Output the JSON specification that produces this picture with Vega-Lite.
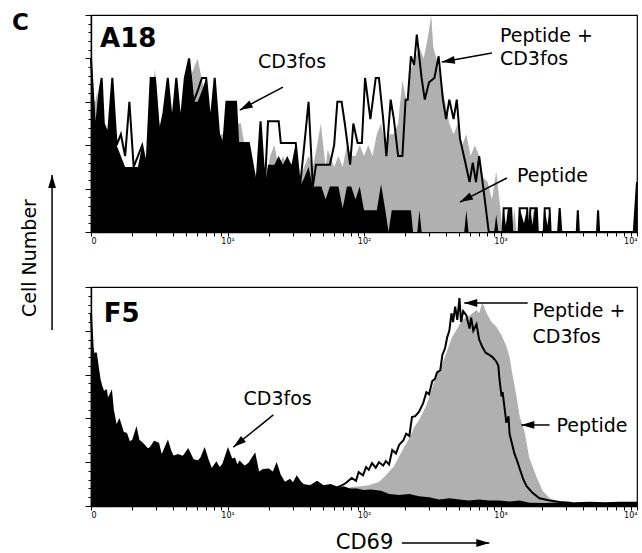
{
 "$schema": "https://vega.github.io/schema/vega-lite/v6.json",
 "background": "white",
 "padding": {"left": 11, "top": 11, "right": 0, "bottom": 0},
 "bounds": "flush",
 "spacing": 55,
 "config": {
  "font": "DejaVu Sans",
  "view": {"stroke": "black", "strokeWidth": 1.2},
  "axis": {"domainColor": "black", "tickColor": "black", "labelColor": "black", "grid": false, "domainWidth": 1.4, "tickWidth": 1}
 },
 "datasets": {
  "topG": [{"ch":0,"n":6},{"ch":8,"n":6},{"ch":12,"n":6.5},{"ch":16,"n":5},{"ch":24,"n":5},{"ch":32,"n":4},{"ch":40,"n":5},{"ch":48,"n":4},{"ch":56,"n":3},{"ch":64,"n":2.5},{"ch":72,"n":2.5},{"ch":80,"n":2.5},{"ch":88,"n":3},{"ch":96,"n":3.5},{"ch":104,"n":3},{"ch":112,"n":6},{"ch":120,"n":7.5},{"ch":128,"n":5},{"ch":136,"n":5},{"ch":144,"n":6},{"ch":152,"n":5},{"ch":160,"n":6},{"ch":168,"n":5},{"ch":176,"n":6},{"ch":184,"n":7},{"ch":192,"n":7.5},{"ch":200,"n":8},{"ch":208,"n":7},{"ch":216,"n":6},{"ch":224,"n":5.5},{"ch":232,"n":6.5},{"ch":240,"n":4.5},{"ch":248,"n":4.5},{"ch":256,"n":5.5},{"ch":264,"n":5},{"ch":272,"n":5},{"ch":281,"n":5},{"ch":288,"n":4},{"ch":296,"n":3.5},{"ch":304,"n":3},{"ch":312,"n":2.5},{"ch":320,"n":3},{"ch":328,"n":2.5},{"ch":336,"n":3.5},{"ch":344,"n":4},{"ch":352,"n":3},{"ch":360,"n":3.5},{"ch":368,"n":3},{"ch":376,"n":2.5},{"ch":384,"n":3},{"ch":392,"n":2.5},{"ch":400,"n":3},{"ch":408,"n":3.5},{"ch":416,"n":3},{"ch":424,"n":4},{"ch":431,"n":5},{"ch":440,"n":3},{"ch":444,"n":3.8},{"ch":456,"n":3},{"ch":464,"n":3.5},{"ch":472,"n":3},{"ch":480,"n":4},{"ch":488,"n":3.5},{"ch":496,"n":3.5},{"ch":504,"n":4},{"ch":512,"n":3.5},{"ch":520,"n":4},{"ch":528,"n":3.5},{"ch":536,"n":4.5},{"ch":544,"n":5},{"ch":552,"n":4},{"ch":560,"n":4.5},{"ch":568,"n":4.5},{"ch":576,"n":5},{"ch":584,"n":7},{"ch":592,"n":6},{"ch":600,"n":7.5},{"ch":608,"n":8},{"ch":616,"n":8.5},{"ch":624,"n":8},{"ch":632,"n":9},{"ch":638,"n":10},{"ch":642,"n":8.5},{"ch":648,"n":8},{"ch":656,"n":7},{"ch":664,"n":6},{"ch":672,"n":5},{"ch":680,"n":4.5},{"ch":688,"n":5},{"ch":696,"n":4},{"ch":704,"n":4.5},{"ch":712,"n":3.5},{"ch":720,"n":4},{"ch":728,"n":3.5},{"ch":736,"n":2.5},{"ch":744,"n":2.3},{"ch":752,"n":1.5},{"ch":760,"n":2.8},{"ch":768,"n":1},{"ch":772,"n":0},{"ch":790,"n":0},{"ch":794,"n":1.1},{"ch":798,"n":0},{"ch":826,"n":0},{"ch":830,"n":1.1},{"ch":834,"n":0},{"ch":1024,"n":0}],
  "topB": [{"ch":0,"n":8},{"ch":8,"n":4.5},{"ch":16,"n":6.5},{"ch":20,"n":7.1},{"ch":24,"n":5},{"ch":32,"n":4.5},{"ch":40,"n":7.1},{"ch":48,"n":4},{"ch":56,"n":3.5},{"ch":64,"n":3},{"ch":72,"n":3},{"ch":80,"n":3},{"ch":88,"n":3},{"ch":96,"n":4},{"ch":104,"n":3},{"ch":112,"n":7.1},{"ch":120,"n":7.1},{"ch":128,"n":4.5},{"ch":136,"n":5.5},{"ch":144,"n":7.1},{"ch":152,"n":5},{"ch":160,"n":7.1},{"ch":168,"n":5},{"ch":176,"n":7.1},{"ch":184,"n":8},{"ch":192,"n":6},{"ch":200,"n":6},{"ch":208,"n":6.5},{"ch":216,"n":7.1},{"ch":224,"n":5},{"ch":232,"n":7.1},{"ch":240,"n":4.5},{"ch":248,"n":4},{"ch":254,"n":6},{"ch":272,"n":6},{"ch":276,"n":4.1},{"ch":296,"n":4.1},{"ch":304,"n":3},{"ch":310,"n":2.1},{"ch":318,"n":5},{"ch":326,"n":2.1},{"ch":332,"n":3.1},{"ch":344,"n":3.1},{"ch":352,"n":3.5},{"ch":360,"n":3.1},{"ch":368,"n":3.5},{"ch":376,"n":3.1},{"ch":384,"n":4.1},{"ch":392,"n":2.1},{"ch":400,"n":2.5},{"ch":408,"n":3},{"ch":416,"n":2.1},{"ch":424,"n":2.1},{"ch":432,"n":2.1},{"ch":440,"n":1.5},{"ch":448,"n":2.1},{"ch":456,"n":2.1},{"ch":464,"n":2.1},{"ch":472,"n":1.1},{"ch":480,"n":2.1},{"ch":488,"n":2.1},{"ch":496,"n":1.5},{"ch":504,"n":2.1},{"ch":512,"n":1},{"ch":528,"n":1},{"ch":536,"n":1},{"ch":544,"n":2.2},{"ch":552,"n":1},{"ch":558,"n":0},{"ch":564,"n":1},{"ch":600,"n":1},{"ch":604,"n":0},{"ch":612,"n":0},{"ch":616,"n":1},{"ch":620,"n":0},{"ch":700,"n":0},{"ch":704,"n":1},{"ch":708,"n":0},{"ch":756,"n":0},{"ch":760,"n":0.8},{"ch":764,"n":0},{"ch":772,"n":0},{"ch":774,"n":1.1},{"ch":778,"n":0.3},{"ch":782,"n":1.1},{"ch":788,"n":1.1},{"ch":790,"n":0},{"ch":802,"n":0},{"ch":804,"n":1.1},{"ch":812,"n":0.4},{"ch":818,"n":1.1},{"ch":820,"n":0},{"ch":822,"n":0},{"ch":824,"n":1.1},{"ch":828,"n":0.3},{"ch":832,"n":1.1},{"ch":836,"n":1.1},{"ch":838,"n":0},{"ch":849,"n":0},{"ch":851,"n":1.1},{"ch":856,"n":0.3},{"ch":860,"n":1.1},{"ch":862,"n":0},{"ch":876,"n":0},{"ch":879,"n":1.1},{"ch":882,"n":0},{"ch":911,"n":0},{"ch":913,"n":1},{"ch":915,"n":0},{"ch":949,"n":0},{"ch":951,"n":1},{"ch":953,"n":0},{"ch":1018,"n":0},{"ch":1024,"n":2.3}],
  "topL": [{"ch":0,"n":8},{"ch":8,"n":4.5},{"ch":16,"n":6.5},{"ch":20,"n":7.1},{"ch":24,"n":5},{"ch":32,"n":4.5},{"ch":40,"n":7.1},{"ch":48,"n":4},{"ch":56,"n":4.5},{"ch":64,"n":3.5},{"ch":72,"n":6},{"ch":80,"n":3},{"ch":88,"n":3.5},{"ch":96,"n":4},{"ch":104,"n":3},{"ch":112,"n":7.1},{"ch":120,"n":7.1},{"ch":128,"n":4.5},{"ch":136,"n":5.5},{"ch":144,"n":7.1},{"ch":152,"n":5},{"ch":160,"n":7.1},{"ch":168,"n":5},{"ch":176,"n":7.1},{"ch":184,"n":8},{"ch":192,"n":6},{"ch":200,"n":6.5},{"ch":208,"n":7.1},{"ch":216,"n":7.1},{"ch":224,"n":5},{"ch":232,"n":7.1},{"ch":240,"n":4.5},{"ch":248,"n":4},{"ch":254,"n":6},{"ch":272,"n":6},{"ch":276,"n":4.1},{"ch":296,"n":4.1},{"ch":304,"n":3},{"ch":310,"n":2.1},{"ch":318,"n":5.1},{"ch":326,"n":2.1},{"ch":332,"n":5.1},{"ch":352,"n":5.1},{"ch":356,"n":4.1},{"ch":384,"n":4.1},{"ch":392,"n":2.1},{"ch":400,"n":4},{"ch":408,"n":6},{"ch":416,"n":2.1},{"ch":422,"n":3.1},{"ch":448,"n":3.1},{"ch":456,"n":4},{"ch":462,"n":6},{"ch":470,"n":6},{"ch":476,"n":5},{"ch":486,"n":3.1},{"ch":492,"n":5},{"ch":500,"n":4.1},{"ch":508,"n":4.1},{"ch":514,"n":7.1},{"ch":524,"n":5.2},{"ch":534,"n":7.1},{"ch":540,"n":7.1},{"ch":548,"n":5.2},{"ch":554,"n":3.5},{"ch":562,"n":6.1},{"ch":568,"n":5.2},{"ch":576,"n":3.5},{"ch":584,"n":3.5},{"ch":590,"n":6.1},{"ch":594,"n":6.1},{"ch":600,"n":8.1},{"ch":606,"n":7.7},{"ch":611,"n":9.1},{"ch":620,"n":7.1},{"ch":626,"n":6.1},{"ch":634,"n":6.9},{"ch":644,"n":7.1},{"ch":652,"n":8.1},{"ch":660,"n":6.1},{"ch":666,"n":5.2},{"ch":672,"n":6.1},{"ch":680,"n":5.2},{"ch":686,"n":6.1},{"ch":692,"n":4.3},{"ch":702,"n":3.2},{"ch":710,"n":2.3},{"ch":716,"n":3.2},{"ch":722,"n":2.3},{"ch":728,"n":3.5},{"ch":738,"n":1.6},{"ch":746,"n":0},{"ch":772,"n":0},{"ch":774,"n":1.1},{"ch":788,"n":1.1},{"ch":790,"n":0},{"ch":802,"n":0},{"ch":804,"n":1.1},{"ch":818,"n":1.1},{"ch":820,"n":0},{"ch":822,"n":0},{"ch":824,"n":1.1},{"ch":836,"n":1.1},{"ch":838,"n":0},{"ch":849,"n":0},{"ch":851,"n":1.1},{"ch":860,"n":1.1},{"ch":862,"n":0},{"ch":876,"n":0},{"ch":879,"n":1.1},{"ch":882,"n":0},{"ch":911,"n":0},{"ch":913,"n":1},{"ch":915,"n":0},{"ch":949,"n":0},{"ch":951,"n":1},{"ch":953,"n":0},{"ch":1018,"n":0},{"ch":1024,"n":2.3}],
  "botG": [{"ch":440,"n":4},{"ch":446,"n":5},{"ch":465,"n":7},{"ch":489,"n":8.7},{"ch":506,"n":9},{"ch":521,"n":9.5},{"ch":540,"n":11},{"ch":553,"n":14},{"ch":568,"n":18},{"ch":583,"n":25},{"ch":597,"n":31},{"ch":606,"n":36},{"ch":615,"n":39},{"ch":629,"n":46},{"ch":640,"n":54},{"ch":649,"n":60},{"ch":659,"n":65},{"ch":668,"n":71},{"ch":677,"n":77},{"ch":687,"n":81},{"ch":696,"n":85},{"ch":710,"n":87},{"ch":723,"n":89.5},{"ch":728,"n":88},{"ch":734,"n":93},{"ch":742,"n":88},{"ch":751,"n":84},{"ch":760,"n":82},{"ch":770,"n":78},{"ch":779,"n":73},{"ch":785,"n":68},{"ch":789,"n":62},{"ch":798,"n":50},{"ch":804,"n":41},{"ch":813,"n":34},{"ch":822,"n":22},{"ch":836,"n":13},{"ch":847,"n":7},{"ch":860,"n":3.5},{"ch":879,"n":2},{"ch":907,"n":1.3},{"ch":930,"n":0}],
  "botB": [{"ch":0,"n":88},{"ch":3,"n":72.6},{"ch":6,"n":66.7},{"ch":9,"n":70},{"ch":13,"n":63},{"ch":16,"n":58},{"ch":19,"n":55},{"ch":25,"n":51},{"ch":28,"n":53},{"ch":31,"n":48},{"ch":38,"n":51.6},{"ch":41,"n":44},{"ch":47,"n":36},{"ch":53,"n":39},{"ch":60,"n":33.5},{"ch":66,"n":33},{"ch":72,"n":28.8},{"ch":79,"n":30},{"ch":85,"n":34.7},{"ch":89,"n":30},{"ch":94,"n":29},{"ch":100,"n":27.5},{"ch":107,"n":25.6},{"ch":113,"n":27},{"ch":119,"n":29.2},{"ch":126,"n":28.5},{"ch":132,"n":22.4},{"ch":137,"n":25},{"ch":144,"n":29},{"ch":149,"n":25},{"ch":154,"n":22.4},{"ch":163,"n":23.3},{"ch":173,"n":22.4},{"ch":182,"n":25.6},{"ch":191,"n":21},{"ch":201,"n":20.3},{"ch":207,"n":22},{"ch":213,"n":25.6},{"ch":219,"n":21},{"ch":226,"n":16.4},{"ch":235,"n":19.6},{"ch":241,"n":17},{"ch":248,"n":19},{"ch":257,"n":25.6},{"ch":264,"n":21},{"ch":269,"n":21.5},{"ch":274,"n":18},{"ch":279,"n":20},{"ch":288,"n":17.8},{"ch":297,"n":19.5},{"ch":307,"n":23.3},{"ch":314,"n":15},{"ch":323,"n":16.4},{"ch":333,"n":16.7},{"ch":342,"n":15},{"ch":348,"n":18.7},{"ch":354,"n":14.2},{"ch":363,"n":10.5},{"ch":373,"n":11.9},{"ch":379,"n":10},{"ch":386,"n":13.2},{"ch":392,"n":11},{"ch":398,"n":9.6},{"ch":411,"n":9},{"ch":424,"n":11},{"ch":436,"n":9},{"ch":449,"n":9.6},{"ch":461,"n":8.2},{"ch":474,"n":9},{"ch":486,"n":8},{"ch":499,"n":8},{"ch":511,"n":7.3},{"ch":525,"n":7.5},{"ch":544,"n":7},{"ch":559,"n":5.5},{"ch":578,"n":5},{"ch":597,"n":5.5},{"ch":615,"n":4.5},{"ch":634,"n":4},{"ch":653,"n":3},{"ch":672,"n":3.5},{"ch":691,"n":3},{"ch":709,"n":2.5},{"ch":728,"n":3},{"ch":747,"n":2.5},{"ch":766,"n":2.5},{"ch":785,"n":2},{"ch":804,"n":2.5},{"ch":822,"n":1.5},{"ch":851,"n":1.4},{"ch":879,"n":1.6},{"ch":907,"n":1.2},{"ch":935,"n":1.5},{"ch":964,"n":1.2},{"ch":992,"n":1.5},{"ch":1024,"n":1.5}],
  "botL": [{"ch":0,"n":88},{"ch":3,"n":72.6},{"ch":6,"n":66.7},{"ch":9,"n":70},{"ch":13,"n":63},{"ch":16,"n":58},{"ch":19,"n":55},{"ch":25,"n":51},{"ch":28,"n":53},{"ch":31,"n":48},{"ch":38,"n":51.6},{"ch":41,"n":44},{"ch":47,"n":36},{"ch":53,"n":39},{"ch":60,"n":33.5},{"ch":66,"n":33},{"ch":72,"n":28.8},{"ch":79,"n":30},{"ch":85,"n":34.7},{"ch":89,"n":30},{"ch":94,"n":29},{"ch":100,"n":27.5},{"ch":107,"n":25.6},{"ch":113,"n":27},{"ch":119,"n":29.2},{"ch":126,"n":28.5},{"ch":132,"n":22.4},{"ch":137,"n":25},{"ch":144,"n":29},{"ch":149,"n":25},{"ch":154,"n":22.4},{"ch":163,"n":23.3},{"ch":173,"n":22.4},{"ch":182,"n":25.6},{"ch":191,"n":21},{"ch":201,"n":20.3},{"ch":207,"n":22},{"ch":213,"n":25.6},{"ch":219,"n":21},{"ch":226,"n":16.4},{"ch":235,"n":19.6},{"ch":241,"n":17},{"ch":248,"n":19},{"ch":257,"n":25.6},{"ch":264,"n":21},{"ch":269,"n":21.5},{"ch":274,"n":18},{"ch":279,"n":20},{"ch":288,"n":17.8},{"ch":297,"n":19.5},{"ch":307,"n":23.3},{"ch":314,"n":15},{"ch":323,"n":16.4},{"ch":333,"n":16.7},{"ch":342,"n":15},{"ch":348,"n":18.7},{"ch":354,"n":14.2},{"ch":363,"n":10.5},{"ch":373,"n":11.9},{"ch":379,"n":10},{"ch":386,"n":13.2},{"ch":392,"n":11},{"ch":398,"n":9.6},{"ch":411,"n":9},{"ch":424,"n":11},{"ch":436,"n":9},{"ch":449,"n":9.6},{"ch":461,"n":8.5},{"ch":467,"n":9},{"ch":478,"n":10.5},{"ch":489,"n":12.8},{"ch":497,"n":11.5},{"ch":502,"n":15.5},{"ch":510,"n":14},{"ch":516,"n":17.8},{"ch":521,"n":16.5},{"ch":527,"n":19.6},{"ch":534,"n":17.5},{"ch":540,"n":20},{"ch":548,"n":18.5},{"ch":553,"n":20.5},{"ch":559,"n":19},{"ch":565,"n":25.6},{"ch":572,"n":24},{"ch":578,"n":28},{"ch":586,"n":30},{"ch":591,"n":33},{"ch":597,"n":32},{"ch":602,"n":40.6},{"ch":608,"n":41},{"ch":615,"n":43},{"ch":623,"n":47},{"ch":629,"n":52},{"ch":634,"n":51},{"ch":640,"n":57},{"ch":645,"n":58},{"ch":649,"n":61},{"ch":655,"n":62},{"ch":659,"n":69},{"ch":664,"n":72},{"ch":668,"n":77},{"ch":672,"n":80},{"ch":676,"n":88},{"ch":679,"n":84},{"ch":683,"n":91},{"ch":687,"n":85},{"ch":691,"n":95},{"ch":694,"n":84},{"ch":698,"n":89},{"ch":704,"n":87},{"ch":710,"n":81},{"ch":713,"n":86},{"ch":717,"n":80},{"ch":723,"n":83},{"ch":728,"n":76},{"ch":734,"n":72.6},{"ch":740,"n":70},{"ch":747,"n":69},{"ch":753,"n":68},{"ch":760,"n":66},{"ch":764,"n":64},{"ch":766,"n":58},{"ch":770,"n":50},{"ch":772,"n":52},{"ch":779,"n":38},{"ch":783,"n":41},{"ch":785,"n":33},{"ch":789,"n":29},{"ch":794,"n":24},{"ch":800,"n":20},{"ch":804,"n":17},{"ch":811,"n":12},{"ch":817,"n":9},{"ch":828,"n":6},{"ch":841,"n":3.5},{"ch":860,"n":2.5},{"ch":879,"n":1.8},{"ch":898,"n":1.5},{"ch":907,"n":1.2},{"ch":935,"n":1.5},{"ch":964,"n":1.2},{"ch":992,"n":1.5},{"ch":1024,"n":1.5}]
 },
 "vconcat": [
  {
   "width": 546, "height": 217,
   "resolve": {"axis": {"x": "independent", "y": "independent"}},
   "layer": [
    {"data": {"name": "topG"}, "mark": {"type": "area", "color": "#b0b0b0"},
     "encoding": {
      "x": {"field": "ch", "type": "quantitative", "scale": {"domain": [0, 1024], "nice": false, "zero": false},
            "axis": {"orient": "bottom", "title": null, "values": [0, 256, 512, 768, 1024],
                     "labelExpr": "datum.value == 0 ? '0' : datum.value == 256 ? '10¹' : datum.value == 512 ? '10²' : datum.value == 768 ? '10³' : '10⁴'",
                     "labelFontSize": 8, "labelFlush": true, "labelOverlap": false, "tickSize": 4, "labelPadding": 1}},
      "y": {"field": "n", "type": "quantitative", "scale": {"domain": [0, 10], "nice": false},
            "axis": {"orient": "left", "title": null, "labels": false, "tickSize": 3, "values": [0,0.4,0.8,1.2,1.6,2,2.4,2.8,3.2,3.6,4,4.4,4.8,5.2,5.6,6,6.4,6.8,7.2,7.6,8,8.4,8.8,9.2,9.6,10]}}
     }},
    {"data": {"name": "topB"}, "mark": {"type": "area", "color": "black"},
     "encoding": {
      "x": {"field": "ch", "type": "quantitative",
            "axis": {"orient": "bottom", "title": null, "labels": false, "domain": false, "tickSize": 4, "values": [77,122,154,179,199,216,231,244,333,378,410,435,455,472,487,500,589,634,666,691,711,728,743,756,845,890,922,947,967,984,999,1012]}},
      "y": {"field": "n", "type": "quantitative", "axis": {"orient": "left", "title": null, "labels": false, "domain": false, "tickSize": 6, "values": [0,2,4,6,8,10]}}
     }},
    {"data": {"name": "topL"}, "mark": {"type": "line", "color": "black", "strokeWidth": 2},
     "encoding": {"x": {"field": "ch", "type": "quantitative", "axis": null}, "y": {"field": "n", "type": "quantitative", "axis": null}}},
    {"data": {"values": [{"ch": 360, "n": 6.68, "ch2": 279, "n2": 5.62}, {"ch": 752, "n": 8.25, "ch2": 658, "n2": 7.83}, {"ch": 780, "n": 2.49, "ch2": 692, "n2": 1.38}, {"ch": -73, "n": -4.52, "ch2": -73, "n2": 2.63}]},
     "mark": {"type": "rule", "color": "black", "strokeWidth": 1.5},
     "encoding": {"x": {"field": "ch", "type": "quantitative", "axis": null}, "y": {"field": "n", "type": "quantitative", "axis": null}, "x2": {"field": "ch2"}, "y2": {"field": "n2"}}},
    {"data": {"values": [{"ch": 279, "n": 5.62}, {"ch": 692, "n": 1.38}]},
     "mark": {"type": "point", "shape": "M0,0L0.6,2L-0.6,2Z", "filled": true, "color": "black", "opacity": 1, "size": 169, "angle": 242},
     "encoding": {"x": {"field": "ch", "type": "quantitative", "axis": null}, "y": {"field": "n", "type": "quantitative", "axis": null}}},
    {"data": {"values": [{"ch": 658, "n": 7.83}]},
     "mark": {"type": "point", "shape": "M0,0L0.6,2L-0.6,2Z", "filled": true, "color": "black", "opacity": 1, "size": 169, "angle": 260},
     "encoding": {"x": {"field": "ch", "type": "quantitative", "axis": null}, "y": {"field": "n", "type": "quantitative", "axis": null}}},
    {"data": {"values": [{"ch": -73, "n": 2.63}]},
     "mark": {"type": "point", "shape": "M0,0L0.6,2L-0.6,2Z", "filled": true, "color": "black", "opacity": 1, "size": 169, "angle": 0},
     "encoding": {"x": {"field": "ch", "type": "quantitative", "axis": null}, "y": {"field": "n", "type": "quantitative", "axis": null}}},
    {"data": {"values": [{"ch": 313, "n": 7.56, "label": "CD3fos"}, {"ch": 767, "n": 8.76, "label": "Peptide +"}, {"ch": 767, "n": 7.7, "label": "CD3fos"}, {"ch": 799, "n": 2.3, "label": "Peptide"}]},
     "mark": {"type": "text", "font": "DejaVu Sans", "fontSize": 19, "align": "left", "baseline": "alphabetic", "color": "black"},
     "encoding": {"x": {"field": "ch", "type": "quantitative", "axis": null}, "y": {"field": "n", "type": "quantitative", "axis": null}, "text": {"field": "label"}}},
    {"data": {"values": [{"ch": 17, "n": 8.53, "label": "A18"}]},
     "mark": {"type": "text", "font": "DejaVu Sans", "fontSize": 26, "fontWeight": "bold", "align": "left", "baseline": "alphabetic", "color": "black"},
     "encoding": {"x": {"field": "ch", "type": "quantitative", "axis": null}, "y": {"field": "n", "type": "quantitative", "axis": null}, "text": {"field": "label"}}},
    {"data": {"values": [{"ch": -148, "n": 9.31, "label": "C"}]},
     "mark": {"type": "text", "font": "DejaVu Sans", "fontSize": 23, "fontWeight": "bold", "align": "left", "baseline": "alphabetic", "color": "black"},
     "encoding": {"x": {"field": "ch", "type": "quantitative", "axis": null}, "y": {"field": "n", "type": "quantitative", "axis": null}, "text": {"field": "label"}}},
    {"data": {"values": [{"ch": -114, "n": -1.2, "label": "Cell Number"}]},
     "mark": {"type": "text", "font": "DejaVu Sans", "fontSize": 19, "angle": 270, "align": "center", "baseline": "middle", "color": "black"},
     "encoding": {"x": {"field": "ch", "type": "quantitative", "axis": null}, "y": {"field": "n", "type": "quantitative", "axis": null}, "text": {"field": "label"}}}
   ]
  },
  {
   "width": 546, "height": 219,
   "resolve": {"axis": {"x": "independent", "y": "independent"}},
   "layer": [
    {"data": {"name": "botG"}, "mark": {"type": "area", "color": "#b0b0b0"},
     "encoding": {
      "x": {"field": "ch", "type": "quantitative", "scale": {"domain": [0, 1024], "nice": false, "zero": false},
            "axis": {"orient": "bottom", "title": "CD69", "titleFontSize": 21, "titleFontWeight": "normal", "titleFont": "DejaVu Sans", "titleColor": "black", "titlePadding": 12,
                     "values": [0, 256, 512, 768, 1024],
                     "labelExpr": "datum.value == 0 ? '0' : datum.value == 256 ? '10¹' : datum.value == 512 ? '10²' : datum.value == 768 ? '10³' : '10⁴'",
                     "labelFontSize": 8, "labelFlush": true, "labelOverlap": false, "tickSize": 4, "labelPadding": 1}},
      "y": {"field": "n", "type": "quantitative", "scale": {"domain": [0, 100], "nice": false},
            "axis": {"orient": "left", "title": null, "labels": false, "tickSize": 3, "values": [0,4,8,12,16,20,24,28,32,36,40,44,48,52,56,60,64,68,72,76,80,84,88,92,96,100]}}
     }},
    {"data": {"name": "botB"}, "mark": {"type": "area", "color": "black"},
     "encoding": {
      "x": {"field": "ch", "type": "quantitative",
            "axis": {"orient": "bottom", "title": null, "labels": false, "domain": false, "tickSize": 4, "values": [77,122,154,179,199,216,231,244,333,378,410,435,455,472,487,500,589,634,666,691,711,728,743,756,845,890,922,947,967,984,999,1012]}},
      "y": {"field": "n", "type": "quantitative", "axis": {"orient": "left", "title": null, "labels": false, "domain": false, "tickSize": 6, "values": [0,20,40,60,80,100]}}
     }},
    {"data": {"name": "botL"}, "mark": {"type": "line", "color": "black", "strokeWidth": 2},
     "encoding": {"x": {"field": "ch", "type": "quantitative", "axis": null}, "y": {"field": "n", "type": "quantitative", "axis": null}}},
    {"data": {"values": [{"ch": 342, "n": 41.6, "ch2": 267, "n2": 26.9}, {"ch": 819, "n": 92.7, "ch2": 700, "n2": 92.7}, {"ch": 860, "n": 37, "ch2": 807, "n2": 37}, {"ch": 583, "n": -16.9, "ch2": 747, "n2": -16.9}]},
     "mark": {"type": "rule", "color": "black", "strokeWidth": 1.5},
     "encoding": {"x": {"field": "ch", "type": "quantitative", "axis": null}, "y": {"field": "n", "type": "quantitative", "axis": null}, "x2": {"field": "ch2"}, "y2": {"field": "n2"}}},
    {"data": {"values": [{"ch": 267, "n": 26.9}]},
     "mark": {"type": "point", "shape": "M0,0L0.6,2L-0.6,2Z", "filled": true, "color": "black", "opacity": 1, "size": 169, "angle": 231},
     "encoding": {"x": {"field": "ch", "type": "quantitative", "axis": null}, "y": {"field": "n", "type": "quantitative", "axis": null}}},
    {"data": {"values": [{"ch": 700, "n": 92.7}, {"ch": 807, "n": 37}]},
     "mark": {"type": "point", "shape": "M0,0L0.6,2L-0.6,2Z", "filled": true, "color": "black", "opacity": 1, "size": 169, "angle": 270},
     "encoding": {"x": {"field": "ch", "type": "quantitative", "axis": null}, "y": {"field": "n", "type": "quantitative", "axis": null}}},
    {"data": {"values": [{"ch": 747, "n": -16.9}]},
     "mark": {"type": "point", "shape": "M0,0L0.6,2L-0.6,2Z", "filled": true, "color": "black", "opacity": 1, "size": 169, "angle": 90},
     "encoding": {"x": {"field": "ch", "type": "quantitative", "axis": null}, "y": {"field": "n", "type": "quantitative", "axis": null}}},
    {"data": {"values": [{"ch": 286, "n": 46.1, "label": "CD3fos"}, {"ch": 828, "n": 86.3, "label": "Peptide +"}, {"ch": 828, "n": 74.4, "label": "CD3fos"}, {"ch": 873, "n": 33.8, "label": "Peptide"}]},
     "mark": {"type": "text", "font": "DejaVu Sans", "fontSize": 19, "align": "left", "baseline": "alphabetic", "color": "black"},
     "encoding": {"x": {"field": "ch", "type": "quantitative", "axis": null}, "y": {"field": "n", "type": "quantitative", "axis": null}, "text": {"field": "label"}}},
    {"data": {"values": [{"ch": 24, "n": 84, "label": "F5"}]},
     "mark": {"type": "text", "font": "DejaVu Sans", "fontSize": 26, "fontWeight": "bold", "align": "left", "baseline": "alphabetic", "color": "black"},
     "encoding": {"x": {"field": "ch", "type": "quantitative", "axis": null}, "y": {"field": "n", "type": "quantitative", "axis": null}, "text": {"field": "label"}}}
   ]
  }
 ]
}
